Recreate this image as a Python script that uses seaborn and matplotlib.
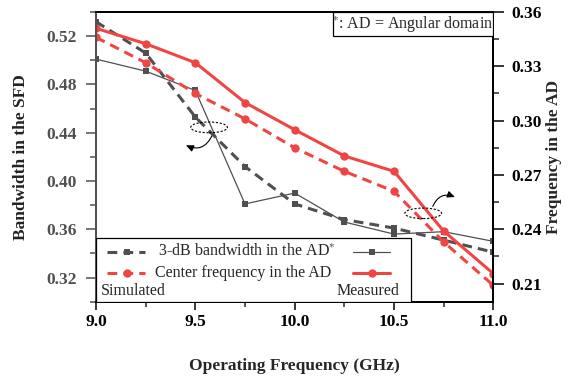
import matplotlib
matplotlib.use("Agg")
import matplotlib.pyplot as plt
from matplotlib.patches import Ellipse, FancyArrowPatch, Rectangle
from matplotlib.lines import Line2D
from matplotlib.ticker import MultipleLocator
import seaborn as sns

# Operating frequency points (GHz)
freq = [9.0, 9.25, 9.5, 9.75, 10.0, 10.25, 10.5, 10.75, 11.0]

# 3-dB bandwidth in the angular domain (left axis, bandwidth in the SFD)
bw_sim = [0.532, 0.506, 0.453, 0.412, 0.381, 0.368, 0.361, 0.351, 0.341]
bw_meas = [0.501, 0.491, 0.475, 0.381, 0.390, 0.366, 0.356, 0.358, 0.350]

# Center frequency in the angular domain (right axis)
cf_sim = [0.346, 0.332, 0.315, 0.301, 0.285, 0.272, 0.261, 0.233, 0.209]
cf_meas = [0.351, 0.3425, 0.332, 0.310, 0.295, 0.2805, 0.272, 0.239, 0.2155]

left_ticks = [0.32, 0.36, 0.40, 0.44, 0.48, 0.52]
right_ticks = [0.21, 0.24, 0.27, 0.30, 0.33, 0.36]
x_ticks = [9.0, 9.5, 10.0, 10.5, 11.0]

GRAY = "#505050"
RED = "#F04545"

sns.set_style("ticks")
plt.rcParams["font.family"] = ["Liberation Serif", "DejaVu Serif"]
plt.rcParams["mathtext.fontset"] = "stix"

fig = plt.figure(figsize=(5.70, 3.79), dpi=100)
ax = fig.add_axes([0.1684, 0.204, 0.6971, 0.7643])
ax2 = ax.twinx()

# Bandwidth curves (left axis)
sns.lineplot(x=freq, y=bw_sim, ax=ax, color=GRAY, lw=2.2, marker="s",
             markersize=5, markeredgewidth=0, linestyle="--")
ax.lines[-1].set_dashes((3.2, 2.0))
sns.lineplot(x=freq, y=bw_meas, ax=ax, color=GRAY, lw=0.9, marker="s",
             markersize=5, markeredgewidth=0)

# Center-frequency curves (right axis)
sns.lineplot(x=freq, y=cf_sim, ax=ax2, color=RED, lw=2.2, marker="o",
             markersize=6, markeredgewidth=0, linestyle="--")
ax2.lines[-1].set_dashes((3.2, 2.0))
sns.lineplot(x=freq, y=cf_meas, ax=ax2, color=RED, lw=2.2, marker="o",
             markersize=6, markeredgewidth=0)

ax.set_xlim(9.0, 11.0)
ax.set_ylim(0.30, 0.54)
ax2.set_ylim(0.20, 0.36)

ax.set_xticks(x_ticks)
ax.set_xticklabels([f"{v:.1f}" for v in x_ticks])
ax.xaxis.set_minor_locator(MultipleLocator(0.25))
ax.set_yticks(left_ticks)
ax.set_yticklabels([f"{v:.2f}" for v in left_ticks])
ax.yaxis.set_minor_locator(MultipleLocator(0.02))
ax2.set_yticks(right_ticks)
ax2.set_yticklabels([f"{v:.2f}" for v in right_ticks])
ax2.yaxis.set_minor_locator(MultipleLocator(0.015))

for a in (ax, ax2):
    for s in a.spines.values():
        s.set_linewidth(1.4)
        s.set_color("black")
        s.set_visible(True)
ax.spines["left"].set_color(GRAY)
ax2.spines["left"].set_color(GRAY)

ax.tick_params(axis="x", which="major", direction="out", length=6, width=1.1,
               labelsize=12.5, pad=3, colors="black")
ax.tick_params(axis="x", which="minor", direction="out", length=3.5, width=1.1)
ax.tick_params(axis="y", which="major", direction="out", length=7, width=1.1,
               labelsize=12.5, pad=7, colors=GRAY)
ax.tick_params(axis="y", which="minor", direction="out", length=4, width=1.1,
               colors=GRAY)
ax2.tick_params(axis="y", which="major", direction="out", length=8, width=1.1,
                labelsize=12.5, pad=5, colors="black")
ax2.tick_params(axis="y", which="minor", direction="out", length=4, width=1.1)
for lab in ax.get_xticklabels() + ax.get_yticklabels() + ax2.get_yticklabels():
    lab.set_fontweight("bold")

ax.set_xlabel("Operating Frequency (GHz)", fontsize=12.5, fontweight="bold",
              labelpad=20)
ax.set_ylabel("Bandwidth in the SFD", fontsize=12.5, fontweight="bold",
              labelpad=12, color="#222222")
ax2.set_ylabel("Frequency in the AD", fontsize=12.5, fontweight="bold",
               labelpad=3)

# Dotted ellipses with curved arrows pointing to the relevant axis
ax.add_patch(Ellipse((9.569, 0.4444), 0.185, 0.0089, fill=False,
                     linestyle=(0, (2, 1.5)), lw=0.8, color="black", zorder=5))
ax.add_patch(FancyArrowPatch((9.589, 0.4395), (9.44, 0.4306),
                             connectionstyle="arc3,rad=-0.55",
                             arrowstyle="-|>,head_length=4.5,head_width=2",
                             lw=0.8, color="black", zorder=5))
ax2.add_patch(Ellipse((10.647, 0.2488), 0.185, 0.0058, fill=False,
                      linestyle=(0, (2, 1.5)), lw=0.8, color="black", zorder=5))
ax2.add_patch(FancyArrowPatch((10.69, 0.2512), (10.82, 0.2572),
                              connectionstyle="arc3,rad=-0.55",
                              arrowstyle="-|>,head_length=4.5,head_width=2",
                              lw=0.8, color="black", zorder=5))

# Note box in the upper-right corner
ax2.add_patch(Rectangle((0.596, 0.917), 0.404, 0.083, transform=ax2.transAxes,
                        fill=True, facecolor="white", edgecolor="black",
                        lw=0.9, zorder=6))
ax2.text(0.798, 0.957, "$^{*}$: AD = Angular domain", transform=ax2.transAxes,
         ha="center", va="center", fontsize=11.5, zorder=7)

# Legend block: simulated keys on the left, measured keys on the right
ax2.add_patch(Rectangle((0.0, 0.0), 0.793, 0.219, transform=ax2.transAxes,
                        facecolor="white", edgecolor="black", lw=0.9, zorder=6))
rows = [
    (0.1726, GRAY, "s", 5, 0.9, "3-dB bandwidth in the AD$^{*}$", 0.602),
    (0.100, RED, "o", 6, 2.2, "Center frequency in the AD", 0.5915),
]
for y, c, m, ms, lw_meas, label, xr in rows:
    sim_key = Line2D([0.027, 0.123], [y, y], transform=ax2.transAxes,
                     color=c, lw=2.2, zorder=7)
    sim_key.set_dashes((3.2, 2.0))
    ax2.add_line(sim_key)
    ax2.add_line(Line2D([0.077], [y], transform=ax2.transAxes, color=c,
                        marker=m, markersize=ms, markeredgewidth=0,
                        linestyle="none", zorder=8))
    ax2.add_line(Line2D([0.6475, 0.74], [y, y], transform=ax2.transAxes,
                        color=c, lw=lw_meas, zorder=7))
    ax2.add_line(Line2D([0.694], [y], transform=ax2.transAxes, color=c,
                        marker=m, markersize=ms, markeredgewidth=0,
                        linestyle="none", zorder=8))
    ax2.text(xr, y, label, transform=ax2.transAxes, ha="right", va="center",
             fontsize=11.5, zorder=8)
ax2.text(0.0126, 0.037, "Simulated", transform=ax2.transAxes, ha="left",
         va="center", fontsize=11.5, zorder=8)
ax2.text(0.765, 0.037, "Measured", transform=ax2.transAxes, ha="right",
         va="center", fontsize=11.5, zorder=8)

fig.savefig("out.png", dpi=100)
